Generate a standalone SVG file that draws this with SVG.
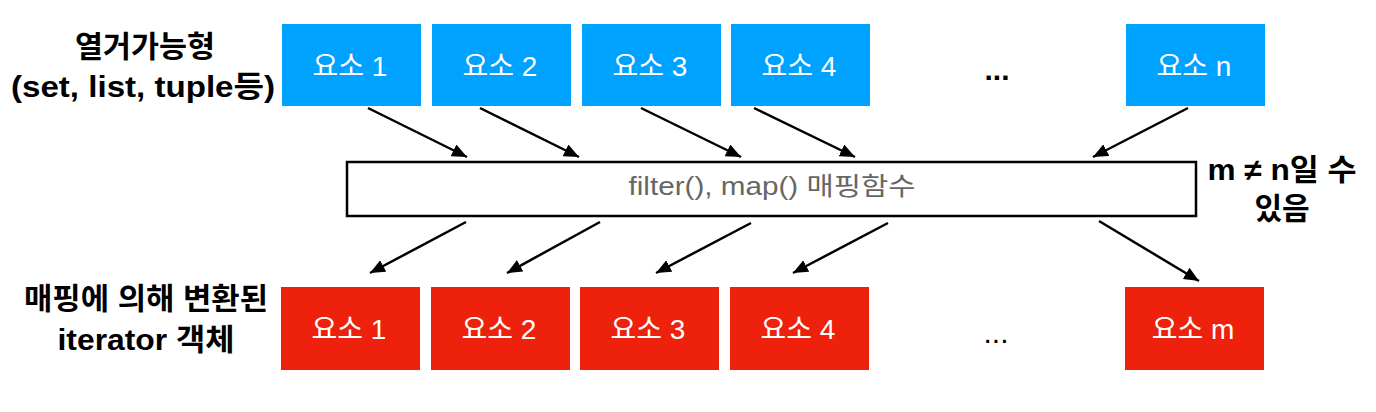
<svg xmlns="http://www.w3.org/2000/svg" width="1376" height="412" viewBox="0 0 1376 412">
<style>
.lbl{font-family:"Liberation Sans","Noto Sans CJK KR",sans-serif;font-weight:bold;font-size:30px;fill:#000;text-anchor:middle}
.btxt{font-family:"Liberation Sans","Noto Sans CJK KR",sans-serif;font-size:28px;fill:#fff;text-anchor:middle}
.blue{fill:#00A2FF}
.red{fill:#EE220C}
.mid{fill:#fff;stroke:#000;stroke-width:2.5}
.midtxt{font-family:"Liberation Sans","Noto Sans CJK KR",sans-serif;font-size:25px;fill:#666;text-anchor:middle}
.dots{font-family:"Liberation Sans",sans-serif;font-size:30px;fill:#000;text-anchor:middle;font-weight:bold}
.conn line{stroke:#000;stroke-width:2.5;marker-end:url(#ah)}
</style>
<defs>
<marker id="ah" markerUnits="userSpaceOnUse" markerWidth="15" markerHeight="13" refX="15" refY="6.5" orient="auto">
<path d="M0,0 L15,6.5 L0,13 z" fill="#000"/>
</marker>
</defs>

<g id="label-iterable">
<text class="lbl" x="145" y="57" textLength="140" lengthAdjust="spacingAndGlyphs">열거가능형</text>
<text class="lbl" x="143" y="97" textLength="264" lengthAdjust="spacingAndGlyphs">(set, list, tuple등)</text>
</g>
<g id="label-iterator">
<text class="lbl" x="146" y="309" textLength="244" lengthAdjust="spacingAndGlyphs">매핑에 의해 변환된</text>
<text class="lbl" x="146" y="350" textLength="177" lengthAdjust="spacingAndGlyphs">iterator 객체</text>
</g>
<g id="label-note">
<text class="lbl" x="1282" y="180" textLength="149" lengthAdjust="spacingAndGlyphs">m ≠ n일 수</text>
<text class="lbl" x="1282" y="219">있음</text>
</g>

<g id="in1"><rect class="blue" x="282" y="24" width="139" height="82"/><text class="btxt" x="350" y="76">요소 1</text></g>
<g id="in2"><rect class="blue" x="432" y="24" width="139" height="82"/><text class="btxt" x="500" y="76">요소 2</text></g>
<g id="in3"><rect class="blue" x="582" y="24" width="139" height="82"/><text class="btxt" x="650" y="76">요소 3</text></g>
<g id="in4"><rect class="blue" x="731" y="24" width="139" height="82"/><text class="btxt" x="799" y="76">요소 4</text></g>
<g id="in-dots"><text class="dots" x="997" y="80">...</text></g>
<g id="inN"><rect class="blue" x="1126" y="24" width="139" height="82"/><text class="btxt" x="1194" y="76">요소 n</text></g>

<g id="mapper"><rect class="mid" x="347" y="162" width="849" height="54"/><text class="midtxt" x="772" y="195" textLength="287" lengthAdjust="spacingAndGlyphs">filter(), map() 매핑함수</text></g>

<g id="out1"><rect class="red" x="281" y="287" width="139" height="83"/><text class="btxt" x="349" y="339">요소 1</text></g>
<g id="out2"><rect class="red" x="431" y="287" width="139" height="83"/><text class="btxt" x="499" y="339">요소 2</text></g>
<g id="out3"><rect class="red" x="580" y="287" width="139" height="83"/><text class="btxt" x="648" y="339">요소 3</text></g>
<g id="out4"><rect class="red" x="730" y="287" width="139" height="83"/><text class="btxt" x="798" y="339">요소 4</text></g>
<g id="out-dots"><text class="dots" x="996" y="343" style="font-weight:normal">...</text></g>
<g id="outM"><rect class="red" x="1125" y="287" width="139" height="83"/><text class="btxt" x="1193" y="339">요소 m</text></g>

<g id="connectors" class="conn">
<line x1="368" y1="108" x2="467" y2="157"/>
<line x1="480" y1="108" x2="579" y2="157"/>
<line x1="641" y1="108" x2="741" y2="157"/>
<line x1="754" y1="108" x2="855" y2="157"/>
<line x1="1188" y1="108" x2="1093" y2="157"/>
<line x1="466" y1="222" x2="370" y2="273"/>
<line x1="600" y1="222" x2="507" y2="273"/>
<line x1="751" y1="223" x2="656" y2="273"/>
<line x1="888" y1="223" x2="793" y2="273"/>
<line x1="1099" y1="221" x2="1199" y2="281"/>
</g>
</svg>
